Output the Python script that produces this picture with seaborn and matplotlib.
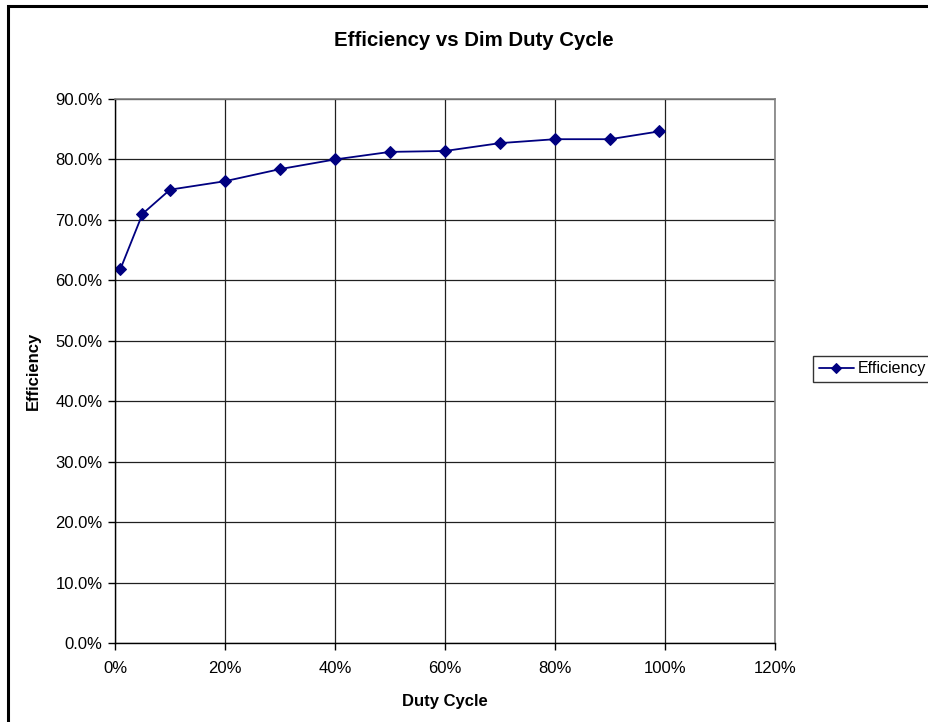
import matplotlib
matplotlib.use("Agg")
import matplotlib.pyplot as plt
import seaborn as sns
import pandas as pd
from matplotlib.patches import Rectangle
from matplotlib.ticker import FuncFormatter

duty_cycle = [1, 5, 10, 20, 30, 40, 50, 60, 70, 80, 90, 99]
efficiency = [61.9, 71.0, 75.0, 76.4, 78.4, 80.0, 81.25, 81.4, 82.7, 83.35, 83.35, 84.65]
x_ticks = [0, 20, 40, 60, 80, 100, 120]
y_ticks = [0, 10, 20, 30, 40, 50, 60, 70, 80, 90]

df = pd.DataFrame({"Duty Cycle": duty_cycle, "Efficiency": efficiency})

sns.set_style("white")
plt.rcParams['font.family'] = ['Liberation Sans', 'DejaVu Sans']
plt.rcParams['text.color'] = 'black'
plt.rcParams['axes.labelcolor'] = 'black'
plt.rcParams['xtick.color'] = 'black'
plt.rcParams['ytick.color'] = 'black'

W, H = 929, 722
fig = plt.figure(figsize=(W / 100, H / 100), dpi=100)
L, R, T, B = 115, 775, 99, 643
ax = fig.add_axes([L / W, 1 - B / H, (R - L) / W, (B - T) / H])

sns.lineplot(data=df, x="Duty Cycle", y="Efficiency", ax=ax, color="#000080",
             marker="D", markersize=6, markeredgecolor="#000080", linewidth=1.3,
             label="Efficiency", legend=False)

ax.set_xlim(0, 120)
ax.set_ylim(0, 90)
ax.set_xticks(x_ticks)
ax.set_yticks(y_ticks)
ax.xaxis.set_major_formatter(FuncFormatter(lambda v, p: f"{v:.0f}%"))
ax.yaxis.set_major_formatter(FuncFormatter(lambda v, p: f"{v:.1f}%"))
ax.grid(True, color="#202020", linewidth=0.9)
ax.set_axisbelow(True)
for s in ["top", "right"]:
    ax.spines[s].set_color("#808080")
    ax.spines[s].set_linewidth(1.2)
for s in ["left", "bottom"]:
    ax.spines[s].set_color("black")
    ax.spines[s].set_linewidth(1.0)
ax.tick_params(axis="both", which="major", length=5, width=1, color="black",
               labelsize=12, direction="out", left=True, bottom=True,
               labelcolor="black")
ax.tick_params(axis="x", pad=8)
ax.tick_params(axis="y", pad=4)

ax.set_xlabel("Duty Cycle", fontsize=12, fontweight="bold", labelpad=13)
ax.set_ylabel("Efficiency", fontsize=12, fontweight="bold", labelpad=10)
fig.text(474 / W, 1 - 41 / H, "Efficiency vs Dim Duty Cycle",
         ha="center", va="center", fontsize=14.7, fontweight="bold")

# Outer chart border (right and bottom edges fall outside the picture)
fig.patches.append(Rectangle((8 / W, -0.1), 1.0, 1.1 - 6 / H,
                             transform=fig.transFigure, fill=False,
                             edgecolor="black", linewidth=2.2))

handles, labels = ax.get_legend_handles_labels()
leg = fig.legend(handles, labels, loc="center left",
                 bbox_to_anchor=(813 / W, 1 - 369 / H), fontsize=11.5,
                 frameon=True, fancybox=False, edgecolor="black",
                 handlelength=2.2, borderpad=0.35, handletextpad=0.25,
                 borderaxespad=0.0, markerscale=0.8)
leg.get_frame().set_linewidth(1.0)

fig.savefig("out.png", dpi=100)
